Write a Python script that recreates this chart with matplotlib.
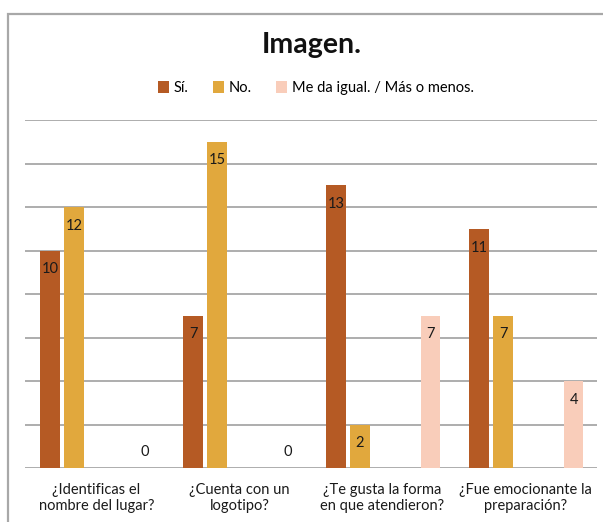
import matplotlib
matplotlib.use("Agg")
import matplotlib.pyplot as plt
from matplotlib.patches import Rectangle
import numpy as np

plt.rcParams['font.family'] = ['Lato', 'DejaVu Sans']

categories = ["¿Identificas el\nnombre del lugar?", "¿Cuenta con un\nlogotipo?",
              "¿Te gusta la forma\nen que atendieron?", "¿Fue emocionante la\npreparación?"]
series_names = ["Sí.", "No.", "Me da igual. / Más o menos."]
si_values = [10, 7, 13, 11]
no_values = [12, 15, 2, 7]
igual_values = [0, 0, 7, 4]
colors = ["#B55A24", "#E1A83D", "#F9CDBA"]
offsets = [0.175, 0.343, 0.837]
bar_width = 0.136

W, H = 603, 522
fig = plt.figure(figsize=(W / 100, H / 100), dpi=100)

# outer chart frame (cropped on right and bottom)
fig.patches.append(Rectangle((8 / W, -0.05), 1.1, 1 - 13.5 / H + 0.05, transform=fig.transFigure,
                             fill=False, edgecolor="#A8A8A8", lw=1.6))

ax = fig.add_axes([25 / W, 54 / H, 572 / W, (468 - 120) / H])
ax.set_xlim(0, 4)
ax.set_ylim(0, 16)
for s in ax.spines.values():
    s.set_visible(False)
ax.set_yticks([])
for g in range(0, 17, 2):
    ax.axhline(g, color="#A0A0A0", lw=1.2, zorder=0)

x = np.arange(len(categories))
all_vals = [si_values, no_values, igual_values]
handles = []
for k, (vals, c, off, name) in enumerate(zip(all_vals, colors, offsets, series_names)):
    b = ax.bar(x + off, vals, width=bar_width, color=c, zorder=2, label=name)
    handles.append(b)
    for xi, v in zip(x + off, vals):
        dy = -13.5 if v > 0 else 11.5
        ax.annotate(str(v), (xi, v), xytext=(0, dy), textcoords="offset points",
                    ha="center", va="center", fontsize=10.5, color="#1A1A1A", zorder=3)

ax.set_xticks(x + 0.5)
ax.set_xticklabels(categories, fontsize=10.5, color="#1A1A1A", linespacing=1.2)
ax.tick_params(axis="x", length=0, pad=11)

fig.text(312 / W, 1 - 53.5 / H, "Imagen.", ha="center", va="baseline",
         fontsize=20.5, fontweight="bold", color="#111111")

fig.legend(handles=handles, labels=series_names, loc="center", ncol=3,
           bbox_to_anchor=(316 / W, 1 - 88 / H), frameon=False, fontsize=10.5,
           handlelength=0.75, handleheight=0.8, handletextpad=0.3, columnspacing=1.7)

fig.savefig("out.png", dpi=100)
